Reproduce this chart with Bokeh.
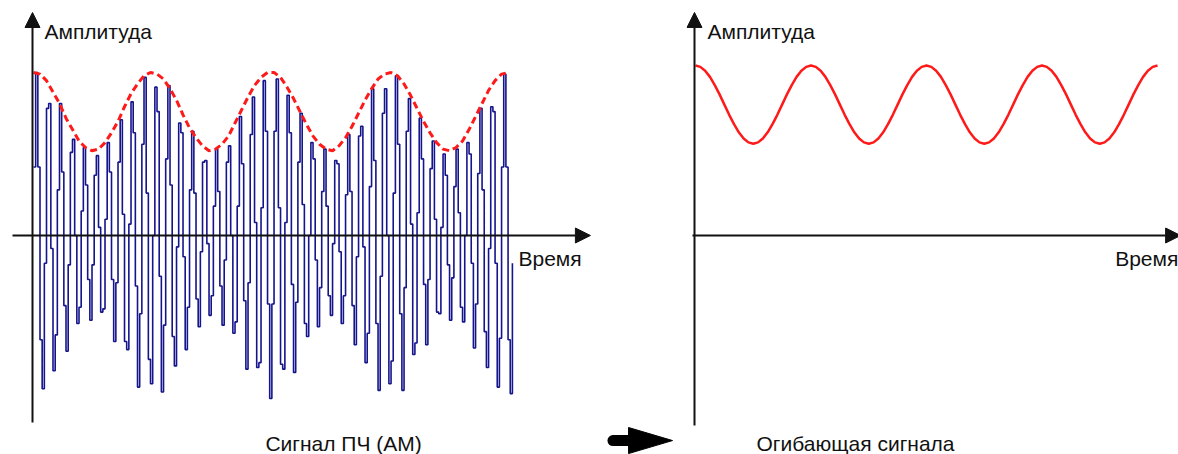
from bokeh.plotting import figure
from bokeh.layouts import row
from bokeh.models import Range1d, Arrow, NormalHead, Label
from bokeh.embed import file_html
from bokeh.resources import INLINE
import numpy as np

# ---- data -------------------------------------------------------------
# sampled AM (IF) signal, one value per sample, read from the picture
carrier = [
    .42, 1.00, .42, -.64, -.94, -.17, .78, .81, -.08, -.83,
    -.61, .28, .81, .39, -.43, -.71, -.18, .51, .59, 0,
    -.54, -.44, .15, .54, .31, -.27, -.52, -.18, .37, .49,
    .05, -.47, -.45, .10, .57, .39, -.27, -.65, -.29, .45,
    .71, .13, -.65, -.70, .07, .82, .63, -.31, -.93, -.48,
    .56, .97, .26, -.76, -.91, 0, .91, .76, -.25, -.96,
    -.55, .47, .92, .31, -.62, -.80, -.07, .69, .63, -.13,
    -.70, -.44, .28, .64, .26, -.39, -.56, -.10, .45, .46,
    -.05, -.49, -.37, .18, .53, .27, -.31, -.55, -.15, .45,
    .55, 0, -.60, -.53, .18, .73, .44, -.40, -.82, -.29,
    .62, .85, .08, -.81, -.78, .17, .95, .64, -.42, -1.00,
    -.42, .64, .96, .17, -.79, -.82, .08, .86, .63, -.30,
    -.84, -.41, .45, .75, .19, -.54, -.62, 0, .57, .47,
    -.15, -.56, -.32, .27, .53, .18, -.37, -.49, -.05, .46,
    .44, -.10, -.54, -.37, .25, .62, .27, -.43, -.67, -.13,
    .61, .67, -.07, -.78, -.60, .30, .90, .46, -.54, -.95,
    -.25, .75, .90, 0, -.91, -.77, .26, .98, .56, -.48,
    -.95, -.32, .64, .84, .07, -.73, -.66, .14, .72, .47,
    -.30, -.67, -.27, .41, .58, .10, -.47, -.48, .05, .50,
    .37, -.18, -.52, -.26, .30, .53, .14, -.44, -.53, 0,
    .57, .50, -.17, -.69, -.42, .38, .78, .28, -.59, -.81,
    -.08, .79, .76, -.17, -.93, -.63, .42, .99, .42, -.64,
    -.97, -.17,
]
# envelope over the AM signal (every 3rd sample)
env_left = [
    1.00, .99, .95, .88, .81, .72, .65, .58, .54, .52,
    .53, .57, .63, .70, .79, .87, .93, .98, 1.00, .99,
    .96, .90, .83, .74, .66, .60, .55, .52, .53, .56,
    .61, .69, .77, .85, .92, .97, 1.00, 1.00, .97, .91,
    .84, .76, .68, .61, .56, .53, .52, .55, .60, .67,
    .75, .83, .90, .96, .99, 1.00, .98, .93, .86, .78,
    .70, .63, .57, .53, .52, .54, .58, .65, .73, .81,
    .89, .95, .99, 1.00,
]
env_left_step = 3
# detected envelope (right panel)
env_right = [
    1.000, .992, .969, .933, .885, .830, .770, .710, .655, .607, .571, .548,
    .540, .548, .571, .607, .655, .710, .770, .830, .885, .933, .969, .992,
    1.000, .992, .969, .933, .885, .830, .770, .710, .655, .607, .571, .548,
    .540, .548, .571, .607, .655, .710, .770, .830, .885, .933, .969, .992,
    1.000, .992, .969, .933, .885, .830, .770, .710, .655, .607, .571, .548,
    .540, .548, .571, .607, .655, .710, .770, .830, .885, .933, .969, .992,
    1.000, .992, .969, .933, .885, .830, .770, .710, .655, .607, .571, .548,
    .540, .548, .571, .607, .655, .710, .770, .830, .885, .933, .969, .992,
    1.000,
]
axis_label_y = "Амплитуда"
axis_label_x = "Время"
caption_left = "Сигнал ПЧ (АМ)"
caption_right = "Огибающая сигнала"

FONT = "Liberation Sans"
AX = "#111111"
NAVY = "#14148c"
RED = "#ff1a1a"
H = 454


def base(w, xr, yr):
    p = figure(width=w, height=H, x_range=Range1d(*xr), y_range=Range1d(*yr),
               output_backend="svg", toolbar_location=None,
               x_axis_location=None, y_axis_location=None, min_border=0)
    p.grid.visible = False
    p.outline_line_color = None
    p.background_fill_color = "white"
    p.border_fill_color = "white"
    return p


def axis_arrow(p, xs, ys, xe, ye, size=15, width=2):
    p.add_layout(Arrow(x_start=xs, y_start=ys, x_end=xe, y_end=ye,
                       line_color=AX, line_width=width,
                       end=NormalHead(size=size, fill_color=AX, line_color=AX, line_width=1)))


def label(p, x, y, text, size="21px", align="left"):
    p.add_layout(Label(x=x, y=y, text=text, text_font=FONT, text_font_size=size,
                       text_align=align, text_baseline="middle", text_color="#111111"))


# ---- left panel: AM signal ---------------------------------------------
p1 = base(686, (-15.23, 301.34), (-1.3436, 1.4417))
xs = np.arange(len(carrier))
p1.step(xs, carrier, mode="after", line_color=NAVY, line_width=1.6)
xe = np.arange(len(env_left)) * env_left_step
p1.line(xe, env_left, line_color=RED, line_width=3, line_dash="7 4")
axis_arrow(p1, -9.69, 0, 257.0, 0)
axis_arrow(p1, -0.46, -1.147, -0.46, 1.368)
label(p1, 5.1, 1.252, axis_label_y)
label(p1, 223.8, -0.141, axis_label_x)
label(p1, 143.1, -1.276, caption_left, align="center")
# big transition arrow (shaft + head)
p1.segment(x0=[267.4], y0=[-1.258], x1=[276.0], y1=[-1.258],
           line_color="black", line_width=11, line_cap="round")
p1.patch(x=[274.6, 294.9, 274.6], y=[-1.178, -1.258, -1.338],
         fill_color="black", line_color="black", line_width=1)

# ---- right panel: envelope ----------------------------------------------
p2 = base(492, (-1.870, 100.36), (-1.2882, 1.3824))
xr = np.arange(len(env_right))
p2.line(xr, env_right, line_color=RED, line_width=2.5)
axis_arrow(p2, -0.623, 0, 100.8, 0)
axis_arrow(p2, -0.208, -1.118, -0.208, 1.312)
label(p2, 2.5, 1.2, axis_label_y)
label(p2, 87.2, -0.135, axis_label_x)
label(p2, 33.25, -1.2235, caption_right, align="center")

layout = row(p1, p2)
open("out.html", "w").write(file_html(layout, INLINE))
